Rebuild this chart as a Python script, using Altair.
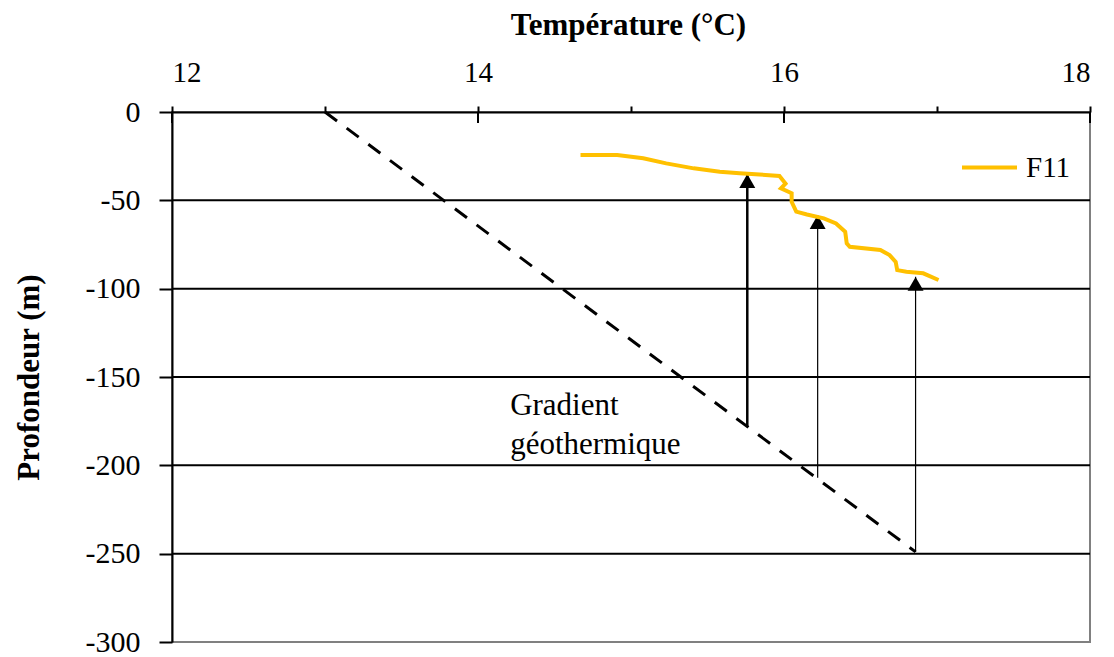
import altair as alt
import pandas as pd

# F11 borehole temperature log (°C vs depth in m)
f11_temp = [14.67, 14.91, 15.08, 15.23, 15.41, 15.58, 15.71, 15.84, 15.97, 16.01,
            15.98, 16.05, 16.05, 16.08, 16.15, 16.26, 16.34, 16.40, 16.41, 16.43,
            16.63, 16.69, 16.73, 16.74, 16.80, 16.91, 17.01]
f11_depth = [-24.3, -24.3, -26.2, -29.1, -31.9, -33.8, -34.7, -35.4, -36.2, -40.5,
             -43.2, -46.0, -50.8, -56.4, -58.0, -60.2, -63.1, -67.8, -74.4, -76.3,
             -78.1, -81.0, -84.8, -89.5, -90.4, -91.3, -95.1]

# Geothermal gradient (end points)
grad_temp = [13.0, 16.86]
grad_depth = [0.0, -249.0]

# Offsets between the gradient and the measured log
arrow_temp = [15.76, 16.22, 16.86]
arrow_from = [-178.0, -207.0, -249.0]
arrow_to = [-35.1, -58.3, -93.3]

grid_depths = [-50, -100, -150, -200, -250]
x_ticks = [12, 13, 14, 15, 16, 17, 18]
x_major = [12, 14, 16, 18]
y_ticks = [0, -50, -100, -150, -200, -250, -300]

FONT = "Liberation Serif"
GOLD = "#FFC000"

xs = alt.Scale(domain=[12, 18], nice=False, zero=False)
ys = alt.Scale(domain=[-300, 0], nice=False, zero=False)

log_df = pd.DataFrame({"t": f11_temp, "d": f11_depth, "i": range(len(f11_temp)),
                       "serie": "F11"})
grad_df = pd.DataFrame({"t": grad_temp, "d": grad_depth})
arrow_df = pd.DataFrame({"t": arrow_temp, "d0": arrow_from, "d1": arrow_to})
grid_df = pd.DataFrame({"d": grid_depths})
major_df = pd.DataFrame({"t": x_major})
label_df = pd.DataFrame({"t": [14.21, 14.21], "d": [-171.6, -193.6],
                         "txt": ["Gradient", "géothermique"]})

x_axis = alt.Axis(orient="top", values=x_ticks, title="Température (°C)",
                  labelExpr="datum.value % 2 == 0 ? '' + datum.value : ''",
                  tickSize=6, tickWidth=2, tickColor="black",
                  domainColor="black", domainWidth=2, grid=False,
                  labelFont=FONT, labelFontSize=29, labelColor="black", labelPadding=19,
                  titleFont=FONT, titleFontSize=31, titleFontWeight="bold",
                  titleColor="black", titleX=456, titleY=-87, titleBaseline="middle")
y_axis = alt.Axis(values=y_ticks, title="Profondeur (m)",
                  labelExpr="'' + datum.value",
                  tickSize=13, tickWidth=2, tickColor="black",
                  domainColor="black", domainWidth=2, grid=False,
                  labelFont=FONT, labelFontSize=30, labelColor="black", labelPadding=19,
                  titleFont=FONT, titleFontSize=31, titleFontWeight="bold",
                  titleColor="black", titleAngle=-90, titleX=-143, titleY=265,
                  titleAlign="center", titleBaseline="middle")

grid = alt.Chart(grid_df).mark_rule(color="black", strokeWidth=2).encode(
    y=alt.Y("d:Q", scale=ys, axis=y_axis),
)

major_ticks = alt.Chart(major_df).mark_rule(color="black", strokeWidth=2).encode(
    x=alt.X("t:Q", scale=xs, axis=x_axis),
    y=alt.value(0),
    y2=alt.value(11),
)

gradient = alt.Chart(grad_df).mark_line(color="black", strokeWidth=3,
                                        strokeDash=[15, 12]).encode(
    x=alt.X("t:Q", scale=xs),
    y=alt.Y("d:Q", scale=ys),
)

arrows = alt.Chart(arrow_df).mark_rule(color="black").encode(
    x=alt.X("t:Q", scale=xs),
    y=alt.Y("d0:Q", scale=ys),
    y2="d1:Q",
    strokeWidth=alt.condition("datum.t < 16", alt.value(2.5), alt.value(1.2)),
)

heads = alt.Chart(arrow_df).mark_point(shape="triangle-up", filled=True, opacity=1,
                                       color="black", size=256).encode(
    x=alt.X("t:Q", scale=xs),
    y=alt.Y("d1:Q", scale=ys),
    yOffset=alt.value(7),
)

log = alt.Chart(log_df).mark_line(strokeWidth=4).encode(
    x=alt.X("t:Q", scale=xs),
    y=alt.Y("d:Q", scale=ys),
    order="i:Q",
    color=alt.Color("serie:N", scale=alt.Scale(domain=["F11"], range=[GOLD]),
                    legend=alt.Legend(title=None, orient="none", legendX=788, legendY=26,
                                      symbolType="stroke", symbolSize=3025,
                                      symbolStrokeWidth=4, labelFont=FONT,
                                      labelFontSize=29, labelColor="black",
                                      labelOffset=7, padding=0)),
)

label = alt.Chart(label_df).mark_text(align="left", baseline="alphabetic",
                                      font=FONT, fontSize=31, color="black").encode(
    x=alt.X("t:Q", scale=xs),
    y=alt.Y("d:Q", scale=ys),
    text="txt:N",
)

chart = alt.layer(grid, major_ticks, gradient, arrows, heads, log, label).properties(
    width=918,
    height=530,
    autosize=alt.AutoSizeParams(type="none"),
    padding={"left": 172, "top": 112, "right": 24, "bottom": 15},
    background="white",
).configure(font=FONT).configure_text(font=FONT).configure_view(
    stroke="#808080", strokeWidth=2)

chart.save("out.html", embed_options={"renderer": "svg", "actions": False})
